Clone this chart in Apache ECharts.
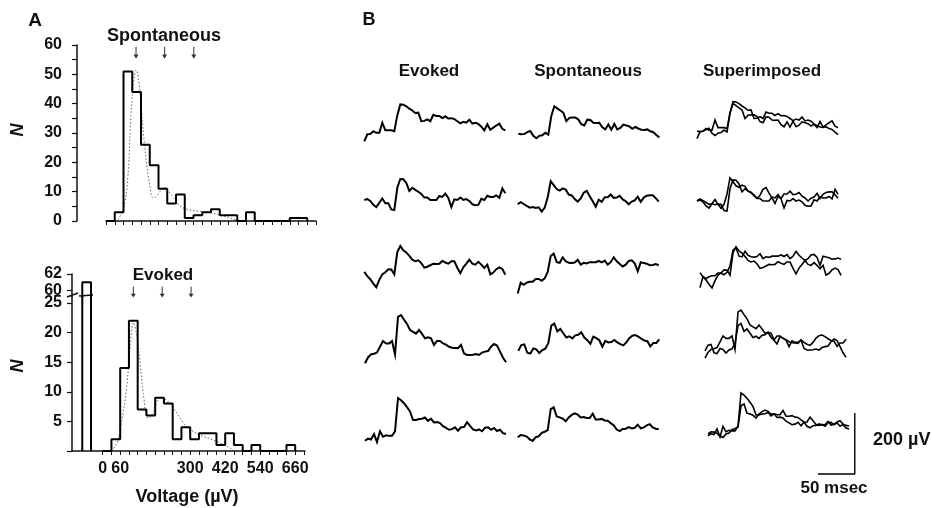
<!DOCTYPE html>
<html><head><meta charset="utf-8">
<script src="https://cdn.jsdelivr.net/npm/echarts@6/dist/echarts.min.js"></script>
<style>html,body{margin:0;padding:0;background:#fff}#c{width:932px;height:508px}</style>
</head><body><div id="c"></div>
<script>
// ---------- Panel A data ----------
const BIN_W = 30; // µV
const spontBinStarts = [0,30,60,90,120,150,180,210,240,270,300,330,360,390,420,450,480,510,540,570,600,630,660];
const spontCounts    = [0,3,51,44,26,19,11,6,9,1,2,3,4,2,2,0,3,0,0,0,0,1,1];
const evokedBinStarts = [0,30,60,90,120,150,180,210,240,270,300,330,360,390,420,450,480,510,540,570,600,630];
const evokedCounts    = [0,2,14,22,7,6,9,8,2,4,2,3,3,1,3,1,0,1,0,0,0,1];
const failureBin = [-70, -40];
const failureCount = 61;
const spontFitV = [40,60,75,85,95,103,112,120,130,140,150,160,170,185,200,215,235,255,285,320,360,390,420,450,470];
const spontFitN = [0.5,4,15,35,48,51.5,48,40,28,19,12,8,8.2,10,11.5,10,7.5,5,3.8,3.3,2.8,2,1.2,0.3,0];
const evokedFitV = [30,50,65,82,95,105,115,128,139,156,173,196,219,254,288,334,391,448];
const evokedFitN = [0,1.5,5,10.7,18,21.7,20,15,9.8,5.5,6.4,9,8.6,6.4,4.1,2.7,1.6,0.2];
const spontArrows = [103,201,301];
const evokedArrows = [105,204,303];
const topYTicks = [0,5,10,15,20,25,30,35,40,45,50,55,60];
const topYLabels = [0,10,20,30,40,50,60];
const botYTicks = [0,5,10,15,20,25];
const botYLabels = [5,10,15,20,25];
const botYUpperLabels = [60,62];
const xTicks = [0,30,60,90,120,150,180,210,240,270,300,330,360,390,420,450,480,510,540,570,600,630,660,690];
const topXTicks = [0,30,60,90,120,150,180,210,240,270,300,330,360,390,420,450,480,510,540,570,600,630,660,690,720];
const xLabels = [0,60,300,420,540,660];

// ---------- Panel B data (µV, one sample every DT ms) ----------
const DT = 3.1;
const ev1 = [-25,-2,-1,8,3,3,36,11,11,11,8,60,96,95,90,82,76,68,69,41,42,47,41,62,58,58,51,57,50,51,48,41,34,39,36,46,33,36,32,23,11,31,13,20,27,33,16,11];
const sp1 = [0,-2,-1,5,9,-7,-15,-7,-5,3,-3,58,90,83,76,69,41,52,53,53,47,31,27,46,45,36,35,36,21,14,30,13,32,14,19,30,27,24,16,22,17,13,12,14,8,5,-4,-12];
const ev2 = [0,3,-3,-16,-23,-9,5,-11,-11,-31,-33,40,69,68,56,30,40,33,27,20,8,8,0,0,0,13,10,21,7,-23,2,0,8,0,3,-3,-14,-17,-16,4,0,14,10,10,15,7,38,22];
const sp2 = [0,7,1,-5,-11,-9,-12,-10,-24,-11,23,76,63,50,45,52,48,32,29,17,9,19,38,44,26,10,-8,15,8,23,23,32,21,22,28,16,10,0,9,13,25,8,22,28,30,30,20,9];
const ev3 = [11,-3,-13,-27,-39,-15,3,10,20,19,3,76,96,82,75,64,51,46,49,40,25,28,33,38,37,38,47,42,38,46,46,25,7,26,38,51,38,35,44,35,24,35,3,9,20,26,21,2];
const sp3 = [-38,-2,-9,-2,1,1,10,10,4,12,33,85,93,65,63,81,68,63,62,64,73,57,63,61,65,65,65,69,64,70,57,65,81,68,59,51,57,69,71,61,35,65,62,60,55,56,59,55];
const ev4 = [-27,-8,2,4,8,27,46,38,38,46,2,125,131,116,102,82,76,70,82,69,55,58,55,33,46,46,38,34,27,24,23,22,33,5,0,0,1,3,0,8,11,13,27,36,31,11,-9,-24];
const sp4 = [-3,16,18,-9,-12,5,2,-10,0,4,22,80,87,61,69,55,41,45,38,48,50,58,41,32,20,44,39,32,11,30,25,26,33,25,19,15,25,39,47,49,44,37,31,29,12,23,23,35];
const ev5 = [-9,-2,-5,13,-13,22,4,9,7,7,22,131,124,114,101,87,59,59,62,63,67,56,63,51,52,49,39,33,27,29,35,24,35,36,52,40,28,25,28,22,34,35,27,33,23,27,16,13];
const sp5 = [-3,4,3,-1,-10,-15,-3,0,11,15,20,89,95,65,62,58,49,62,70,75,71,62,63,60,60,74,55,55,57,52,51,43,36,22,17,24,25,30,26,28,38,26,29,36,40,29,25,23];
const evokedTraces = [ev1, ev2, ev3, ev4, ev5];
const spontTraces = [sp1, sp2, sp3, sp4, sp5];
const scaleBarMs = 50, scaleBarUV = 200;
const columnTitles = ['Evoked', 'Spontaneous', 'Superimposed'];

// ---------- layout ----------
const FONT = 'Liberation Sans';
const INK = '#111';
const PX_PER_MS = 0.968, PX_PER_UV = 0.305;
const TW = 150, TH = 100;
const T_MAX = TW / PX_PER_MS;
const V_MIN = -100, V_MAX = V_MIN + TH / PX_PER_UV;
const evPos = [[364.3,133.7],[364.3,200],[364.3,275.3],[365,355],[365,438]];
const spPos = [[518.3,133.7],[517.7,204.3],[517.7,282],[518.3,350],[517.7,436.3]];
const suPos = [[697,131],[697,201],[700,276],[705,350],[708,433]];

function stepPoints(starts, counts, w) {
  const pts = [[starts[0], 0]];
  for (let i = 0; i < starts.length; i++) {
    pts.push([starts[i], counts[i]], [starts[i] + w, counts[i]]);
  }
  pts.push([starts[starts.length - 1] + w, 0]);
  return pts;
}
const zip = (a, b) => a.map((v, i) => [v, b[i]]);
const toXY = arr => arr.map((v, i) => [i * DT, v]);

const grids = [], xAxes = [], yAxes = [], series = [];
const lbl = {color: INK, fontFamily: FONT, fontWeight: 'bold', fontSize: 16};
const axLine = {show: true, onZero: false, lineStyle: {color: INK, width: 1.5}};

// grid 0: spontaneous histogram
grids.push({left: 106, top: 45, width: 210, height: 176});
xAxes.push({gridIndex: 0, type: 'value', min: 0, max: 720, axisLine: axLine,
  axisTick: {show: true, customValues: topXTicks, length: 4, lineStyle: {color: INK, width: 1}},
  axisLabel: {show: false}, splitLine: {show: false}});
yAxes.push({gridIndex: 0, type: 'value', min: 0, max: 60, offset: 29, axisLine: axLine,
  axisTick: {show: true, customValues: topYTicks, length: 5, lineStyle: {color: INK, width: 1.2}},
  axisLabel: Object.assign({customValues: topYLabels, margin: 15}, lbl), splitLine: {show: false}});
// grid 1: evoked histogram lower part
grids.push({left: 72, top: 297, width: 233, height: 154});
xAxes.push({gridIndex: 1, type: 'value', min: -105.2, max: 693.6, axisLine: axLine,
  axisTick: {show: true, customValues: xTicks, length: 4, lineStyle: {color: INK, width: 1}},
  axisLabel: Object.assign({customValues: xLabels, margin: 10}, lbl), splitLine: {show: false}});
yAxes.push({gridIndex: 1, type: 'value', min: 0, max: 26, axisLine: axLine,
  axisTick: {show: true, customValues: botYTicks, length: 5, lineStyle: {color: INK, width: 1.2}},
  axisLabel: Object.assign({customValues: botYLabels, margin: 10}, lbl), splitLine: {show: false}});
// grid 2: evoked histogram upper (broken) part
grids.push({left: 72, top: 274, width: 233, height: 23});
xAxes.push({gridIndex: 2, type: 'value', min: -105.2, max: 693.6, show: false});
yAxes.push({gridIndex: 2, type: 'value', min: 59.2, max: 62, axisLine: axLine,
  axisTick: {show: true, customValues: botYUpperLabels, length: 5, lineStyle: {color: INK, width: 1.2}},
  axisLabel: Object.assign({customValues: botYUpperLabels, margin: 10}, lbl), splitLine: {show: false}});

const histLine = {color: '#000', width: 2};
const fitLine = {color: '#666', width: 1, type: [1.5, 2]};
const arrowPath = 'path://M4,0 L6,0 L6,13 L10,13 L5,20 L0,13 L4,13 Z';

series.push({type: 'line', xAxisIndex: 0, yAxisIndex: 0, data: stepPoints(spontBinStarts, spontCounts, BIN_W),
  symbol: 'none', lineStyle: histLine, z: 3});
series.push({type: 'line', xAxisIndex: 0, yAxisIndex: 0, data: zip(spontFitV, spontFitN), smooth: 0.35,
  symbol: 'none', lineStyle: fitLine, z: 2});
series.push({type: 'scatter', xAxisIndex: 0, yAxisIndex: 0, data: spontArrows.map(v => [v, 57.4]),
  symbol: arrowPath, symbolSize: [5, 12], itemStyle: {color: '#000'}});

const failPts = [[failureBin[0], 0], [failureBin[0], failureCount], [failureBin[1], failureCount], [failureBin[1], 0]];
series.push({type: 'line', xAxisIndex: 1, yAxisIndex: 1, data: stepPoints(evokedBinStarts, evokedCounts, BIN_W),
  symbol: 'none', lineStyle: histLine, z: 3});
series.push({type: 'line', xAxisIndex: 1, yAxisIndex: 1, data: failPts, symbol: 'none', lineStyle: histLine, z: 3});
series.push({type: 'line', xAxisIndex: 2, yAxisIndex: 2, data: failPts, symbol: 'none', lineStyle: histLine, z: 3});
series.push({type: 'line', xAxisIndex: 1, yAxisIndex: 1, data: zip(evokedFitV, evokedFitN), smooth: 0.35,
  symbol: 'none', lineStyle: fitLine, z: 2});
series.push({type: 'scatter', xAxisIndex: 2, yAxisIndex: 2, data: evokedArrows.map(v => [v, 59.8]),
  symbol: arrowPath, symbolSize: [5, 11], itemStyle: {color: '#000'}});

// trace grids
function addTraceGrid(pos, traces, width) {
  const gi = grids.length;
  grids.push({left: pos[0], top: pos[1] - V_MAX * PX_PER_UV, width: TW, height: TH});
  xAxes.push({gridIndex: gi, type: 'value', min: 0, max: T_MAX, show: false});
  yAxes.push({gridIndex: gi, type: 'value', min: V_MIN, max: V_MAX, show: false});
  traces.forEach(tr => series.push({type: 'line', xAxisIndex: gi, yAxisIndex: gi, data: toXY(tr),
    symbol: 'none', clip: false, lineStyle: {color: '#000', width: width, join: 'miter'}}));
}
for (let r = 0; r < 5; r++) {
  addTraceGrid(evPos[r], [evokedTraces[r]], 2);
  addTraceGrid(spPos[r], [spontTraces[r]], 2);
  addTraceGrid(suPos[r], [evokedTraces[r], spontTraces[r]], 1.6);
}
// scale bar grid (same scales as traces)
{
  const gi = grids.length;
  grids.push({left: 818, top: 474 - V_MAX * PX_PER_UV, width: TW, height: TH});
  xAxes.push({gridIndex: gi, type: 'value', min: 0, max: T_MAX, show: false});
  yAxes.push({gridIndex: gi, type: 'value', min: V_MIN, max: V_MAX, show: false});
  series.push({type: 'line', xAxisIndex: gi, yAxisIndex: gi, symbol: 'none', clip: false,
    data: [[0, 0], [scaleBarMs, 0], [scaleBarMs, scaleBarUV]], lineStyle: {color: '#000', width: 1.4}});
}

function txt(text, x, y, opts) {
  return Object.assign({type: 'text', x: x, y: y, style: Object.assign({text: text, fill: INK,
    font: 'bold 16px "' + FONT + '"', align: 'center', verticalAlign: 'middle'}, (opts && opts.style) || {})},
    opts && opts.rotation !== undefined ? {rotation: opts.rotation} : {});
}
const f = (s) => 'bold ' + s + 'px "' + FONT + '"';
const graphic = [
  txt('A', 35, 21, {style: {font: f(19)}}),
  txt('B', 369, 20, {style: {font: f(18)}}),
  txt('Spontaneous', 164, 36, {style: {font: f(18)}}),
  txt('Evoked', 163, 275, {style: {font: f(17)}}),
  txt('N', 18, 130, {rotation: Math.PI / 2, style: {font: 'italic bold 18px "' + FONT + '"'}}),
  txt('N', 18, 366, {rotation: Math.PI / 2, style: {font: 'italic bold 18px "' + FONT + '"'}}),
  txt('Voltage (µV)', 187, 497, {style: {font: f(18)}}),
  txt(columnTitles[0], 429, 71, {style: {font: f(17)}}),
  txt(columnTitles[1], 588, 71, {style: {font: f(17)}}),
  txt(columnTitles[2], 762, 71, {style: {font: f(17)}}),
  txt(scaleBarUV + ' µV', 873, 440, {style: {align: 'left', font: f(18)}}),
  txt(scaleBarMs + ' msec', 834, 488, {style: {font: f(17)}}),
  // axis break marks
  {type: 'line', shape: {x1: 67, y1: 297, x2: 78, y2: 293}, style: {stroke: INK, lineWidth: 1.5}},
  {type: 'line', shape: {x1: 79, y1: 296, x2: 93, y2: 295}, style: {stroke: INK, lineWidth: 1.5}}
];

const chart = echarts.init(document.getElementById('c'), null, {renderer: 'canvas'});
chart.setOption({animation: false, backgroundColor: '#fff', grid: grids, xAxis: xAxes, yAxis: yAxes,
  series: series, graphic: graphic});
</script></body></html>
